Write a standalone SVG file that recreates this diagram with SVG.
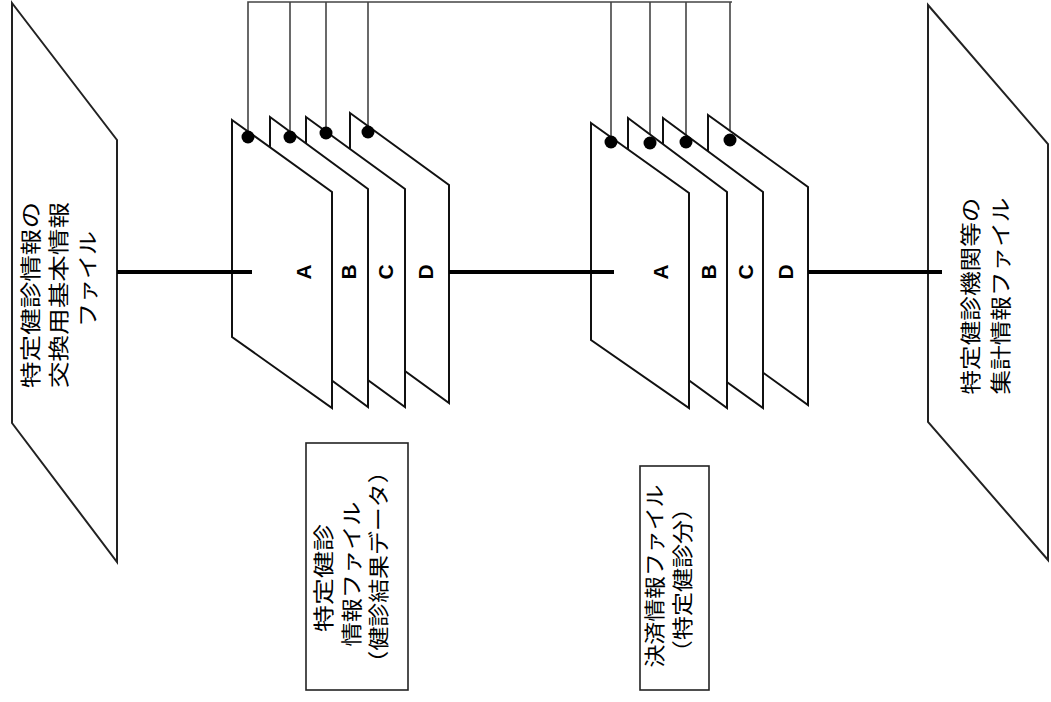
<svg xmlns="http://www.w3.org/2000/svg" width="1051" height="702" viewBox="0 0 1051 702">
<style>
.file{fill:#fff;stroke:#222;stroke-width:2}
.plate{fill:#fff;stroke:#111;stroke-width:2;stroke-linejoin:miter}
.thin{fill:none;stroke:#444;stroke-width:1.6}
.thick{fill:none;stroke:#000;stroke-width:4}
.dot{fill:#000}
.jp{font-family:"Noto Sans CJK JP","Noto Sans",sans-serif;font-size:21px;fill:#000}
.lt{font-family:"Liberation Sans",Arial,sans-serif;font-size:21px;font-weight:bold;fill:#000}
.box{fill:#fff;stroke:#222;stroke-width:1.6}
</style>
<rect width="1051" height="702" fill="#fff"/>
<g id="connectors">
<polyline class="thin" points="248,137 248,2 732,2"/>
<line class="thin" x1="290" y1="2" x2="290" y2="137"/>
<line class="thin" x1="326" y1="2" x2="326" y2="133"/>
<line class="thin" x1="368" y1="2" x2="368" y2="132"/>
<line class="thin" x1="611" y1="2" x2="611" y2="142"/>
<line class="thin" x1="650" y1="2" x2="650" y2="143"/>
<line class="thin" x1="686" y1="2" x2="686" y2="142"/>
<line class="thin" x1="730" y1="2" x2="730" y2="140"/>
</g>
<g id="file-left">
<polygon class="file" points="12,3 117,140 117,562 12,423"/>
<text class="jp" text-anchor="middle" dominant-baseline="central" transform="translate(29,295) rotate(-90)" textLength="186" lengthAdjust="spacingAndGlyphs">特定健診情報の</text>
<text class="jp" text-anchor="middle" dominant-baseline="central" transform="translate(57,295) rotate(-90)" textLength="186" lengthAdjust="spacingAndGlyphs">交換用基本情報</text>
<text class="jp" text-anchor="middle" dominant-baseline="central" transform="translate(86,279) rotate(-90)" textLength="96" lengthAdjust="spacingAndGlyphs">ファイル</text>
</g>
<g id="file-right">
<polygon class="file" points="928,5 1048,144 1048,560 928,422"/>
<text class="jp" text-anchor="middle" dominant-baseline="central" transform="translate(969,296) rotate(-90)" textLength="197" lengthAdjust="spacingAndGlyphs">特定健診機関等の</text>
<text class="jp" text-anchor="middle" dominant-baseline="central" transform="translate(999,296) rotate(-90)" textLength="197" lengthAdjust="spacingAndGlyphs">集計情報ファイル</text>
</g>
<g id="stack1">
<polygon class="plate" points="350,113 449,185 449,403 350,331"/>
<polygon class="plate" points="306,117 405,189 405,407 306,335"/>
<polygon class="plate" points="270,117 368,189 368,407 270,335"/>
<polygon class="plate" points="232,120 332,192 332,408 232,337"/>
<text class="lt" text-anchor="middle" dominant-baseline="central" transform="translate(303,272) rotate(-90)">A</text>
<text class="lt" text-anchor="middle" dominant-baseline="central" transform="translate(348,272) rotate(-90)">B</text>
<text class="lt" text-anchor="middle" dominant-baseline="central" transform="translate(385,272) rotate(-90)">C</text>
<text class="lt" text-anchor="middle" dominant-baseline="central" transform="translate(425,272) rotate(-90)">D</text>
<circle class="dot" cx="248" cy="137" r="6.5"/>
<circle class="dot" cx="290" cy="137" r="6.5"/>
<circle class="dot" cx="326" cy="133" r="6.5"/>
<circle class="dot" cx="368" cy="132" r="6.5"/>
</g>
<g id="stack2">
<polygon class="plate" points="708,115 808,187 808,405 708,333"/>
<polygon class="plate" points="663,118 763,192 763,408 663,336"/>
<polygon class="plate" points="628,118 727,192 727,408 628,336"/>
<polygon class="plate" points="591,123 689,193 689,408 591,340"/>
<text class="lt" text-anchor="middle" dominant-baseline="central" transform="translate(660,272) rotate(-90)">A</text>
<text class="lt" text-anchor="middle" dominant-baseline="central" transform="translate(708,272) rotate(-90)">B</text>
<text class="lt" text-anchor="middle" dominant-baseline="central" transform="translate(745,272) rotate(-90)">C</text>
<text class="lt" text-anchor="middle" dominant-baseline="central" transform="translate(785,272) rotate(-90)">D</text>
<circle class="dot" cx="611" cy="142" r="6.5"/>
<circle class="dot" cx="650" cy="143" r="6.5"/>
<circle class="dot" cx="686" cy="142" r="6.5"/>
<circle class="dot" cx="730" cy="140" r="6.5"/>
</g>
<g id="links">
<line class="thick" x1="117" y1="272" x2="252" y2="272"/>
<line class="thick" x1="449" y1="272" x2="614" y2="272"/>
<line class="thick" x1="808" y1="272" x2="942" y2="272"/>
</g>
<g id="label-kenshin">
<rect class="box" x="306" y="443" width="102" height="247"/>
<text class="jp" text-anchor="middle" dominant-baseline="central" transform="translate(322,578) rotate(-90)" textLength="108" lengthAdjust="spacingAndGlyphs">特定健診</text>
<text class="jp" text-anchor="middle" dominant-baseline="central" transform="translate(350,574) rotate(-90)" textLength="145" lengthAdjust="spacingAndGlyphs">情報ファイル</text>
<text class="jp" text-anchor="middle" dominant-baseline="central" transform="translate(377,567) rotate(-90)" textLength="215" lengthAdjust="spacingAndGlyphs">（健診結果データ）</text>
</g>
<g id="label-kessai">
<rect class="box" x="640" y="466" width="69" height="224"/>
<text class="jp" text-anchor="middle" dominant-baseline="central" transform="translate(653,576) rotate(-90)" textLength="183" lengthAdjust="spacingAndGlyphs">決済情報ファイル</text>
<text class="jp" text-anchor="middle" dominant-baseline="central" transform="translate(681,580) rotate(-90)" textLength="168" lengthAdjust="spacingAndGlyphs">（特定健診分）</text>
</g>
</svg>
